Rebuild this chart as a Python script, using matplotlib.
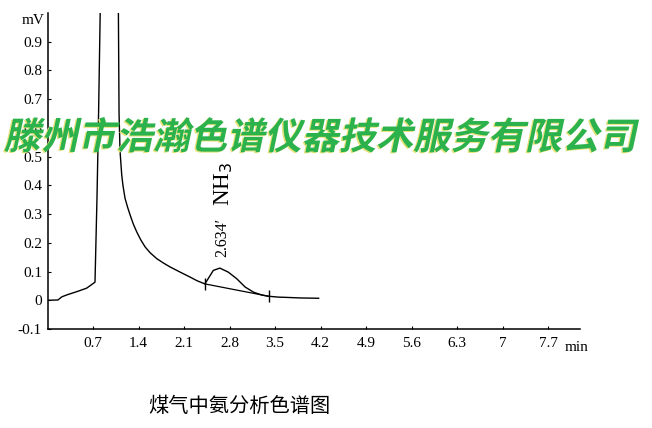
import matplotlib
matplotlib.use("Agg")
import matplotlib.pyplot as plt
from matplotlib.textpath import TextPath
from matplotlib.patches import PathPatch
from matplotlib.font_manager import FontProperties
from matplotlib.transforms import Affine2D, IdentityTransform

# retention time (min) and detector signal (mV)
time_min = [0.0, 0.16, 0.22, 0.30, 0.45, 0.60, 0.65, 0.73, 0.76, 0.78, 0.81, 0.83,
            1.085, 1.09, 1.10, 1.115, 1.141, 1.16, 1.192, 1.23, 1.27, 1.32, 1.372,
            1.43, 1.50, 1.58, 1.68, 1.78, 1.885, 2.04, 2.19, 2.30, 2.42,
            2.47, 2.55, 2.65, 2.78, 2.91, 3.04, 3.17,
            3.30, 3.40, 3.55, 3.68, 3.90, 4.17]
signal_mv = [0.0, 0.001, 0.012, 0.019, 0.030, 0.042, 0.050, 0.063, 0.35, 0.58, 1.0, 1.3,
             1.3, 1.0, 0.65, 0.52, 0.437, 0.40, 0.355, 0.325, 0.297, 0.265, 0.238,
             0.212, 0.186, 0.165, 0.145, 0.13, 0.116, 0.098, 0.081, 0.068, 0.057,
             0.075, 0.104, 0.112, 0.098, 0.075, 0.046, 0.028,
             0.018, 0.014, 0.011, 0.010, 0.008, 0.007]

# tangent baseline drawn under the NH3 peak
base_time = [2.42, 3.40]
base_mv = [0.057, 0.014]

xticks = [0.7, 1.4, 2.1, 2.8, 3.5, 4.2, 4.9, 5.6, 6.3, 7.0, 7.7]
xtick_labels = ["0.7", "1.4", "2.1", "2.8", "3.5", "4.2", "4.9", "5.6", "6.3", "7", "7.7"]
yticks = [-0.1, 0, 0.1, 0.2, 0.3, 0.4, 0.5, 0.6, 0.7, 0.8, 0.9]
ytick_labels = ["-0.1", "0", "0.1", "0.2", "0.3", "0.4", "0.5", "0.6", "0.7", "0.8", "0.9"]

peak_time = "2.634\u2032"
peak_name = "NH$_3$"
caption = "煤气中氨分析色谱图"
watermark = "滕州市浩瀚色谱仪器技术服务有限公司"

serif = "Liberation Serif"

fig = plt.figure(figsize=(6.52, 4.28), dpi=100)
ax = fig.add_axes([0.0729, 0.2313, 0.8167, 0.7383])

ax.plot(time_min, signal_mv, color="black", lw=1.0)
ax.plot(base_time, base_mv, color="black", lw=0.9, marker="|", markersize=8, mew=1.0)

ax.set_xlim(0, 8.19)
ax.set_ylim(-0.1, 1.0)
ax.spines["top"].set_visible(False)
ax.spines["right"].set_visible(False)
ax.spines["left"].set_linewidth(1.1)
ax.spines["bottom"].set_linewidth(1.1)

ax.set_xticks(xticks)
ax.set_xticklabels(xtick_labels, fontfamily=serif, fontsize=11)
ax.set_yticks(yticks)
ax.set_yticklabels(ytick_labels, fontfamily=serif, fontsize=11)
ax.tick_params(axis="x", direction="in", length=2.5, pad=6)
ax.tick_params(axis="y", direction="in", length=2.5, pad=4)

ax.text(-0.22, 0.975, "mV", fontfamily=serif, fontsize=11, ha="center", va="center", clip_on=False)
ax.text(8.13, -0.163, "min", fontfamily=serif, fontsize=11, ha="center", va="center", clip_on=False)

# peak annotations
ax.text(2.685, 0.22, peak_time, rotation=90, fontfamily=serif, fontsize=11.5,
        ha="center", va="center")
ax.text(2.70, 0.405, peak_name, rotation=90, fontfamily=serif, fontsize=16.5,
        ha="center", va="center")

fig.text(239.5 / 652, 1 - 406.5 / 428, caption, fontfamily="Noto Sans CJK SC",
         fontsize=14.6, ha="center", va="center")

# green slanted watermark across the plot
wm_prop = FontProperties(family="Noto Sans CJK SC", weight="heavy")
wm_path = TextPath((0, 0), watermark, size=37.2, prop=wm_prop)
shadow_tr = Affine2D().skew_deg(12, 0).translate(2.5, 278) + IdentityTransform()
wm_tr = Affine2D().skew_deg(12, 0).translate(4, 279) + IdentityTransform()
fig.patches.append(PathPatch(wm_path, transform=shadow_tr, facecolor="#e6e27a",
                             edgecolor="none", figure=fig))
fig.patches.append(PathPatch(wm_path, transform=wm_tr, facecolor="#2bb24c",
                             edgecolor="none", figure=fig))

fig.savefig("out.png", dpi=100)
